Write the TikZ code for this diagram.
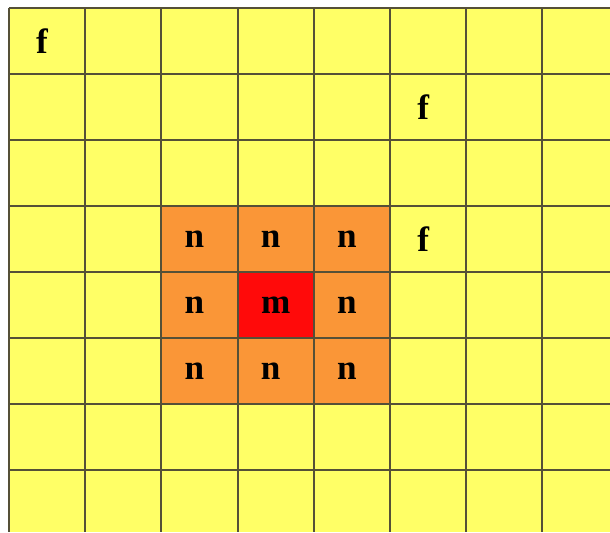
\documentclass[tikz,border=0pt]{standalone}
\usepackage{fontspec}
\setmainfont{Liberation Serif}
\usepackage{tikz}
\usetikzlibrary{positioning}

\definecolor{cellyellow}{RGB}{255,255,102}
\definecolor{cellorange}{RGB}{250,150,55}
\definecolor{cellred}{RGB}{255,10,10}
\definecolor{gridline}{RGB}{85,80,55}

\begin{document}
\begin{tikzpicture}[
        x=1.524cm, y=-1.32cm,
        every node/.style={font=\bfseries\fontsize{20}{20}\selectfont},
        mark label/.style={xshift=-1mm},
        gridpen/.style={draw=gridline, line width=1.1pt},
    ]

        \useasboundingbox (-0.118,-0.121) rectangle (7.887,7.94);

        % cell fills
        \fill[cellyellow] (0,0) rectangle (7.887,7.94);
        \fill[cellorange] (2,3) rectangle (5,6);
        \fill[cellred] (3,4) rectangle (4,5);

        % grid lines
        \foreach \c in {0,...,7}
            \draw[gridpen] (\c,0) -- (\c,7.94);
        \foreach \r in {0,...,7}
            \draw[gridpen] (0,\r) -- (7.887,\r);

        % labels
        \node[mark label] (f1) at (0.5,0.5) {f};
        \node[mark label] (f2) at (5.5,1.5) {f};
        \node[mark label] (f3) at (5.5,3.5) {f};
        \node (m) at (3.5,4.5) {m};
        \foreach \c/\r [count=\i] in {2/3,3/3,4/3,2/4,4/4,2/5,3/5,4/5}
            \node[mark label] (n\i) at (\c+0.5,\r+0.5) {n};

    \end{tikzpicture}
\end{document}
